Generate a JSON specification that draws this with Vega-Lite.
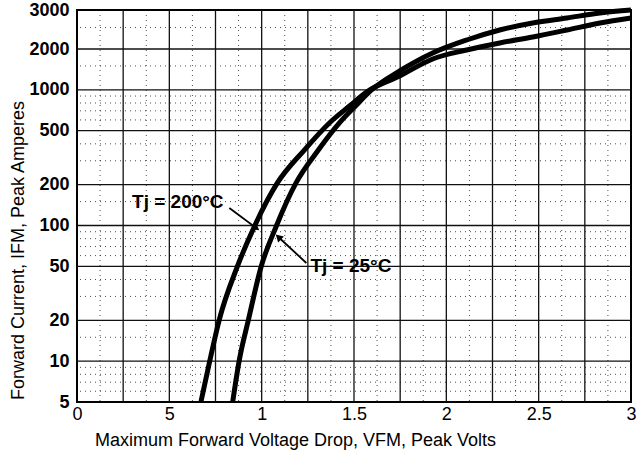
{
  "$schema": "https://vega.github.io/schema/vega-lite/v6.json",
  "width": 554,
  "height": 392,
  "autosize": "none",
  "padding": {"left": 77, "top": 10, "right": 6, "bottom": 55},
  "background": "white",
  "config": {
    "view": {"stroke": "black", "strokeWidth": 2},
    "font": "Liberation Sans"
  },
  "datasets": {
    "vminor": [{"V":0.125},{"V":0.375},{"V":0.625},{"V":0.875},{"V":1.125},{"V":1.375},{"V":1.625},{"V":1.875},{"V":2.125},{"V":2.375},{"V":2.625},{"V":2.875}],
    "vmajor": [{"V":0.25},{"V":0.5},{"V":0.75},{"V":1},{"V":1.25},{"V":1.5},{"V":1.75},{"V":2},{"V":2.25},{"V":2.5},{"V":2.75}],
    "hminor": [{"I":6},{"I":7},{"I":8},{"I":9},{"I":15},{"I":30},{"I":40},{"I":60},{"I":70},{"I":80},{"I":90},{"I":150},{"I":300},{"I":400},{"I":600},{"I":700},{"I":800},{"I":900},{"I":1500},{"I":2500}],
    "hmajor": [{"I":10},{"I":20},{"I":50},{"I":100},{"I":200},{"I":500},{"I":1000},{"I":2000}],
    "curves": [
      {"series":"200","V":0.671,"I":5},
      {"series":"200","V":0.720,"I":10.2},
      {"series":"200","V":0.770,"I":20.1},
      {"series":"200","V":0.868,"I":49.7},
      {"series":"200","V":0.960,"I":98},
      {"series":"200","V":1.085,"I":206},
      {"series":"200","V":1.231,"I":360},
      {"series":"200","V":1.367,"I":570},
      {"series":"200","V":1.476,"I":760},
      {"series":"200","V":1.568,"I":964},
      {"series":"200","V":1.747,"I":1265},
      {"series":"200","V":1.926,"I":1688},
      {"series":"200","V":2.110,"I":1966},
      {"series":"200","V":2.289,"I":2129},
      {"series":"200","V":2.468,"I":2266},
      {"series":"200","V":2.653,"I":2437},
      {"series":"200","V":2.832,"I":2621},
      {"series":"200","V":3.0,"I":2761},
      {"series":"25","V":0.843,"I":5},
      {"series":"25","V":0.879,"I":10.2},
      {"series":"25","V":0.928,"I":20.1},
      {"series":"25","V":0.997,"I":49.7},
      {"series":"25","V":1.078,"I":98},
      {"series":"25","V":1.186,"I":206},
      {"series":"25","V":1.307,"I":360},
      {"series":"25","V":1.421,"I":570},
      {"series":"25","V":1.508,"I":760},
      {"series":"25","V":1.595,"I":998},
      {"series":"25","V":1.747,"I":1377},
      {"series":"25","V":1.926,"I":1869},
      {"series":"25","V":2.110,"I":2196},
      {"series":"25","V":2.289,"I":2437},
      {"series":"25","V":2.468,"I":2621},
      {"series":"25","V":2.653,"I":2761},
      {"series":"25","V":2.832,"I":2909},
      {"series":"25","V":3.0,"I":3000}
    ],
    "arrows": [
      {"name":"200","V":0.825,"I":134.6,"V2":0.971,"I2":95.8},
      {"name":"25","V":1.242,"I":52.9,"V2":1.0905,"I2":82.3}
    ],
    "notes": [
      {"label":"Tj = 200°C","V":0.298,"I":150},
      {"label":"Tj = 25°C","V":1.264,"I":50}
    ]
  },
  "layer": [
    {
      "data": {"name": "vminor"},
      "mark": {"type": "rule", "stroke": "#000", "strokeWidth": 1, "strokeDash": [1, 4], "opacity": 0.7},
      "encoding": {
        "x": {
          "field": "V", "type": "quantitative",
          "scale": {"domain": [0, 3], "nice": false, "zero": false},
          "axis": {
            "values": [0, 0.5, 1, 1.5, 2, 2.5, 3],
            "format": "~g",
            "labelExpr": "datum.value == 0.5 ? '5' : datum.label",
            "grid": false, "ticks": false, "domain": false,
            "labelFlush": false,
            "labelFontSize": 18, "labelColor": "black", "labelPadding": 3,
            "title": "Maximum Forward Voltage Drop, VFM, Peak Volts",
            "titleFontSize": 18, "titleFontWeight": "normal", "titleColor": "black",
            "titleX": 218, "titleY": 38, "titleBaseline": "middle"
          }
        }
      }
    },
    {
      "data": {"name": "hminor"},
      "mark": {"type": "rule", "stroke": "#000", "strokeWidth": 1, "strokeDash": [1, 4], "opacity": 0.7},
      "encoding": {
        "y": {
          "field": "I", "type": "quantitative",
          "scale": {"type": "log", "domain": [5, 2000, 3000], "range": [392, 39, 0], "nice": false},
          "axis": {
            "values": [5, 10, 20, 50, 100, 200, 500, 1000, 2000, 3000],
            "format": "d",
            "grid": false, "ticks": false, "domain": false,
            "labelFlush": false,
            "labelFontSize": 18, "labelFontWeight": "bold", "labelColor": "black", "labelPadding": 8,
            "title": "Forward Current, IFM, Peak Amperes",
            "titleFontSize": 18, "titleFontWeight": "normal", "titleColor": "black",
            "titleX": -59, "titleY": 240, "titleAngle": -90, "titleBaseline": "middle", "titleAlign": "center"
          }
        }
      }
    },
    {
      "data": {"name": "vmajor"},
      "mark": {"type": "rule", "stroke": "#111", "strokeWidth": 1.3},
      "encoding": {
        "x": {"field": "V", "type": "quantitative"}
      }
    },
    {
      "data": {"name": "hmajor"},
      "mark": {"type": "rule", "stroke": "#111", "strokeWidth": 1.3},
      "encoding": {
        "y": {"field": "I", "type": "quantitative"}
      }
    },
    {
      "data": {"name": "curves"},
      "mark": {"type": "line", "color": "black", "strokeWidth": 5, "interpolate": "monotone"},
      "encoding": {
        "x": {"field": "V", "type": "quantitative"},
        "y": {"field": "I", "type": "quantitative"},
        "detail": {"field": "series", "type": "nominal"}
      }
    },
    {
      "data": {"name": "arrows"},
      "mark": {"type": "rule", "color": "black", "strokeWidth": 1.8},
      "encoding": {
        "x": {"field": "V", "type": "quantitative"},
        "y": {"field": "I", "type": "quantitative"},
        "x2": {"field": "V2"},
        "y2": {"field": "I2"}
      }
    },
    {
      "data": {"name": "arrows"},
      "transform": [{"filter": "datum.name == '200'"}],
      "mark": {"type": "point", "shape": "triangle-up", "filled": true, "color": "black", "size": 70, "opacity": 1, "angle": 127},
      "encoding": {
        "x": {"field": "V2", "type": "quantitative"},
        "y": {"field": "I2", "type": "quantitative"}
      }
    },
    {
      "data": {"name": "arrows"},
      "transform": [{"filter": "datum.name == '25'"}],
      "mark": {"type": "point", "shape": "triangle-up", "filled": true, "color": "black", "size": 70, "opacity": 1, "angle": 313},
      "encoding": {
        "x": {"field": "V2", "type": "quantitative"},
        "y": {"field": "I2", "type": "quantitative"}
      }
    },
    {
      "data": {"name": "notes"},
      "mark": {"type": "text", "align": "left", "baseline": "middle", "fontSize": 19, "fontWeight": "bold", "color": "black"},
      "encoding": {
        "x": {"field": "V", "type": "quantitative"},
        "y": {"field": "I", "type": "quantitative"},
        "text": {"field": "label"}
      }
    }
  ]
}
